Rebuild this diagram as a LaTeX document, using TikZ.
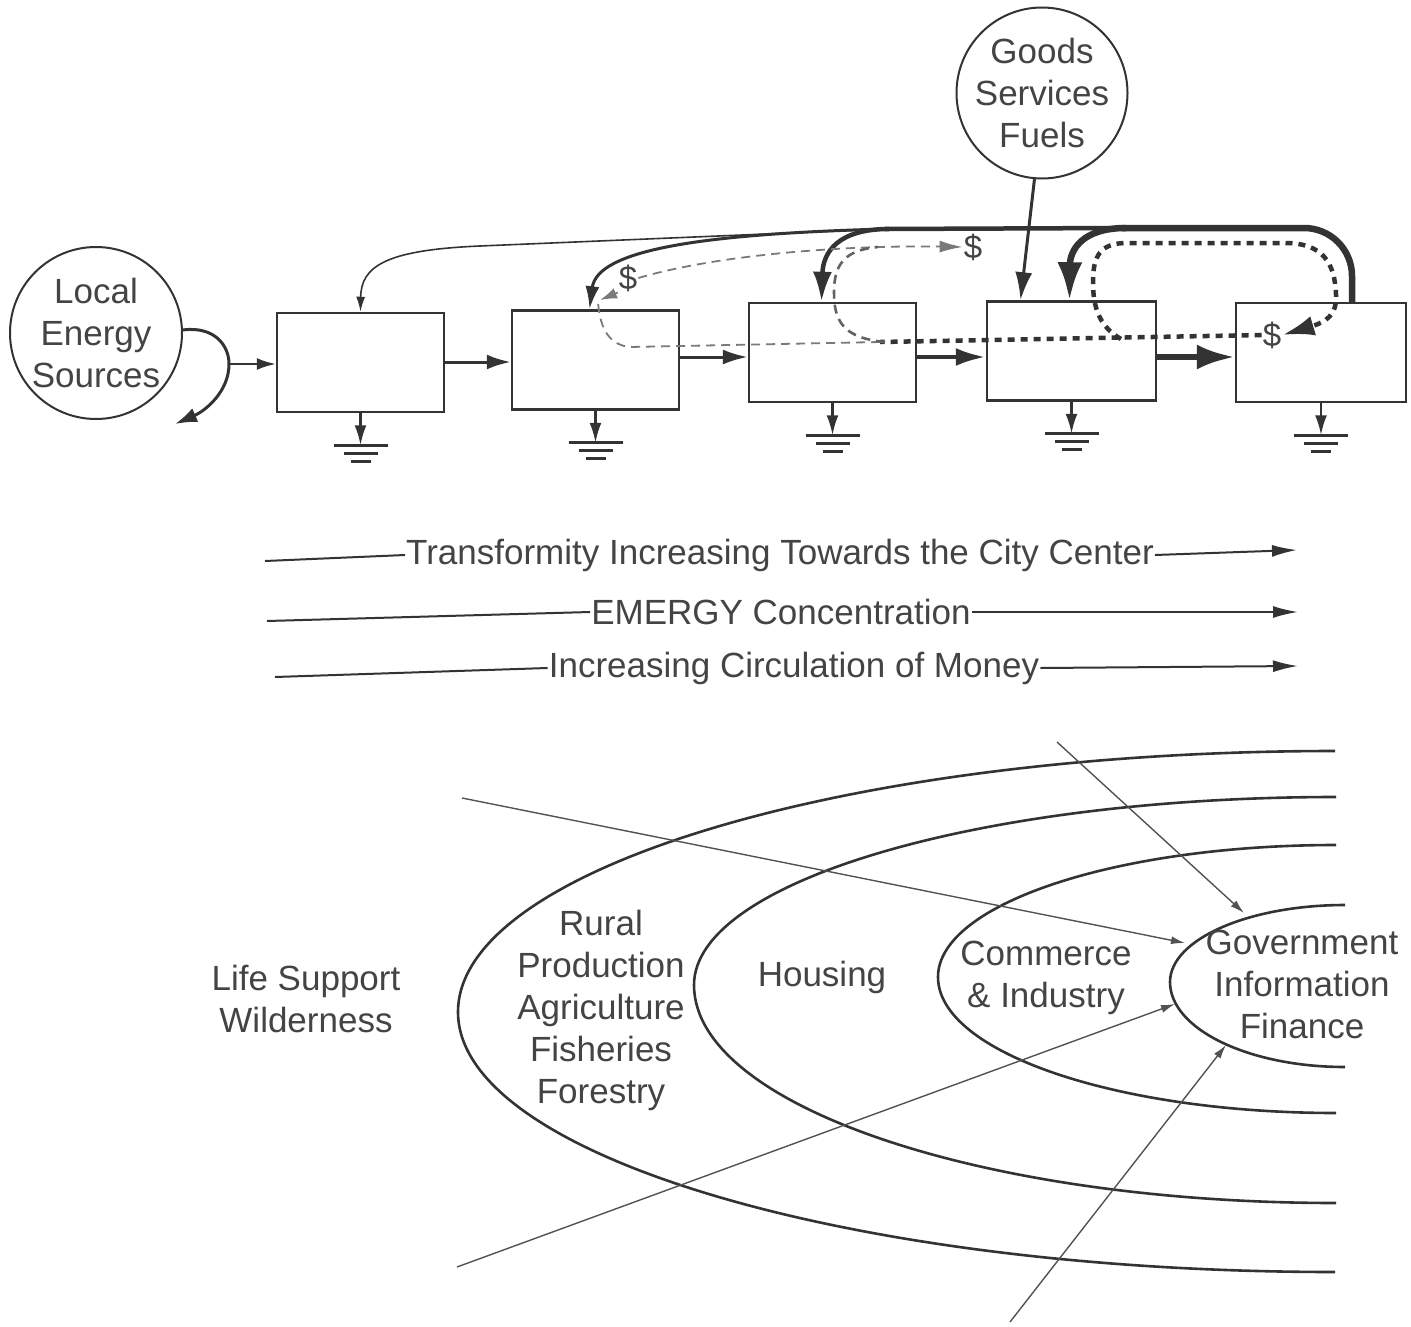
\documentclass[tikz,border=0pt]{standalone}
\usepackage{fontspec}
\setmainfont{Liberation Sans}
\usetikzlibrary{arrows.meta}
\definecolor{ink}{HTML}{333333}
\definecolor{txtc}{HTML}{444444}
\definecolor{faint}{HTML}{7A7A7A}
\tikzset{
  lbl/.style={text=txtc, font=\fontsize{35}{42}\selectfont, align=center, inner sep=1pt},
  unitbox/.style={draw=ink, line width=2.5, fill=white, minimum width=167, minimum height=99, inner sep=0},
  source/.style={circle, draw=ink, line width=2, inner sep=0},
  flow/.style={draw=ink, line width=#1},
  money/.style={draw=ink, line width=4.5, dash pattern=on 7pt off 6pt},
  moneymid/.style={draw=faint!80!black, line width=2.6, dash pattern=on 9pt off 6pt},
  moneythin/.style={draw=faint, line width=1.8, dash pattern=on 9pt off 6pt},
  ring/.style={draw=ink, line width=2.6},
  pointer/.style={draw=ink!85, line width=1.4, -{Latex[length=14,width=8]}},
  gradline/.style={draw=ink, line width=2},
}
\begin{document}
\begin{tikzpicture}[x=1pt,y=-1pt]
\useasboundingbox (0,0) rectangle (1411,1327);

% ---------- sources ----------
\node[source, minimum size=172] (les) at (96,333) {};
\node[lbl] at (les.center) {Local\\Energy\\Sources};
\node[source, minimum size=171] (gsf) at (1042,93) {};
\node[lbl] at (gsf.center) {Goods\\Services\\Fuels};

% ---------- chain of units ----------
\node[unitbox] (b1) at (360.5,362.5) {};
\node[unitbox] (b2) at (595.5,360) {};
\node[unitbox] (b3) at (832.5,352.5) {};
\node[unitbox, minimum width=169] (b4) at (1071.5,351) {};
\node[unitbox, minimum width=170] (b5) at (1321,352.5) {};

% heat sinks under each unit
\foreach \b in {b1,b2,b3,b4,b5}{
  \draw[flow=2.5, -{Latex[length=20,width=12]}] (\b.south) -- ++(0,32) coordinate (\b g);
  \draw[ink, line width=3] ([xshift=-27pt]\b g) -- ([xshift=27pt]\b g);
  \draw[ink, line width=3] ([xshift=-17pt]\b g) ++(0,8) -- ++(34,0);
  \draw[ink, line width=3] ([xshift=-10pt]\b g) ++(0,16) -- ++(20,0);
}

% local inflow, split into outflow and first unit
\coordinate (split) at (229,364);
\draw[flow=3, -{Latex[length=22,width=15]}] (les.2) .. controls (214,326) and (229,345) .. (split)
      .. controls (229,392) and (205,411) .. (175,424);
\draw[flow=2, -{Latex[length=19,width=12]}] (split) -- (b1.west |- split);

% forward energy flows, thickening toward the center
\draw[flow=3, -{Latex[length=24,width=15]}] (b1.east |- 0,362) -- (b2.west |- 0,362);
\draw[flow=3, -{Latex[length=25,width=15]}] (b2.east |- 0,357) -- (b3.west |- 0,357);
\draw[flow=4.5, -{Latex[length=30,width=18]}] (b3.east |- 0,357) -- (b4.west |- 0,357);
\draw[flow=6.5, -{Latex[length=38,width=25]}] (b4.east |- 0,357) -- (b5.west |- 0,357);

% purchased inputs
\draw[flow=3, -{Latex[length=28,width=17]}] (gsf.-95) -- ([xshift=-51pt]b4.north);

% ---------- feedback from the center ----------
\coordinate (top5) at (1352,228);
\coordinate (br4) at (1122,228);
\coordinate (br3) at (885,229);
\draw[flow=6.5, rounded corners=48] ([xshift=31pt]b5.north) -- (top5) -- (br4);
\draw[flow=6.5, -{Latex[length=38,width=25]}] (1126,228) .. controls (1082,228) and (1070,250) .. ([xshift=-2pt]b4.north);
\draw[flow=4.5] (br4) -- (br3);
\draw[flow=4.5, -{Latex[length=30,width=19]}] (889,229) .. controls (838,229) and (823,252) .. ([xshift=-11pt]b3.north);
\draw[flow=3, -{Latex[length=23,width=14]}] (br3) .. controls (700,234) and (597,250) .. ([xshift=-6pt]b2.north);
\draw[flow=1.6, -{Latex[length=15,width=9]}] (br3) -- (480,246) .. controls (386,250) and (361,266) .. (b1.north);

% ---------- money ----------
\node[lbl, font=\fontsize{33}{38}\selectfont] (m2) at (628,278) {\$};
\node[lbl, font=\fontsize{33}{38}\selectfont] (m3) at (973,247) {\$};
\node[lbl, font=\fontsize{33}{38}\selectfont] (m5) at (1272,335) {\$};

% circulation between the two inner units
\draw[money] (m5.west) -- (880,342);
\draw[money, -{Latex[length=32,width=20]}] (1121,339) .. controls (1098,326) and (1093,305) .. (1093,282)
      .. controls (1093,256) and (1100,243) .. (1127,243) -- (1285,243)
      .. controls (1322,243) and (1335,262) .. (1336,295)
      .. controls (1337,315) and (1326,322) .. (m5.east);

% payments further out
\draw[moneythin] (880,342) -- (630,347) .. controls (610,345) and (600,330) .. (598,302);
\draw[moneythin, -{Latex[length=17,width=11]}] (m2.south west) -- (600,300);
\draw[moneythin, -{Latex[length=23,width=12]}] (m2.east) .. controls (720,254) and (850,245) .. (m3.west);
\draw[moneymid] (885,342) .. controls (842,338) and (834,320) .. (834,292)
      .. controls (834,263) and (846,250) .. (878,247);

% ---------- gradients ----------
\node[lbl] (t1) at (780,555) {Transformity Increasing Towards the City Center};
\coordinate (t1a) at (265,561); \coordinate (t1b) at (1297,550);
\draw[gradline] (t1a) -- (t1.west);
\draw[gradline, -{Latex[length=25,width=12]}] (t1.east) -- (t1b);

\node[lbl] (t2) at (781,612) {EMERGY Concentration};
\coordinate (t2a) at (267,621); \coordinate (t2b) at (1298,612);
\draw[gradline] (t2a) -- (t2.west);
\draw[gradline, -{Latex[length=25,width=12]}] (t2.east) -- (t2b);

\node[lbl] (t3) at (794,668) {Increasing Circulation of Money};
\coordinate (t3a) at (275,677); \coordinate (t3b) at (1298,666);
\draw[gradline] (t3a) -- (t3.west);
\draw[gradline, -{Latex[length=25,width=12]}] (t3.east) -- (t3b);

% ---------- concentric zones ----------
\draw[ring] (1335,751) arc[start angle=-90, end angle=-180, x radius=877, y radius=261]
                       arc[start angle=180, end angle=90, x radius=877, y radius=260];
\draw[ring] (1336,797) arc[start angle=-90, end angle=-180, x radius=642, y radius=188]
                       arc[start angle=180, end angle=90, x radius=642, y radius=218];
\draw[ring] (1336,845) arc[start angle=-90, end angle=-180, x radius=398, y radius=132]
                       arc[start angle=180, end angle=90, x radius=398, y radius=136];
\draw[ring] (1345,905) arc[start angle=-90, end angle=-180, x radius=175, y radius=77]
                       arc[start angle=180, end angle=90, x radius=175, y radius=85];

\node[lbl] (ls) at (306,999) {Life Support\\Wilderness};
\node[lbl] (rural) at (601,1010) {Rural\\Production\\Agriculture\\Fisheries\\Forestry};
\node[lbl] (hous) at (822,977) {Housing};
\node[lbl] (comm) at (1046,978) {Commerce\\\& Industry};
\node[lbl] (gov) at (1302,984) {Government\\Information\\Finance};

% flows converging on the center
\coordinate (p1) at (462,798);  \coordinate (q1) at (1185,943);
\coordinate (p2) at (1057,742); \coordinate (q2) at (1244,913);
\coordinate (p3) at (457,1267); \coordinate (q3) at (1175,1004);
\coordinate (p4) at (1010,1322);\coordinate (q4) at (1226,1045);
\draw[pointer] (p1) -- (q1);
\draw[pointer] (p2) -- (q2);
\draw[pointer] (p3) -- (q3);
\draw[pointer] (p4) -- (q4);
\end{tikzpicture}
\end{document}
